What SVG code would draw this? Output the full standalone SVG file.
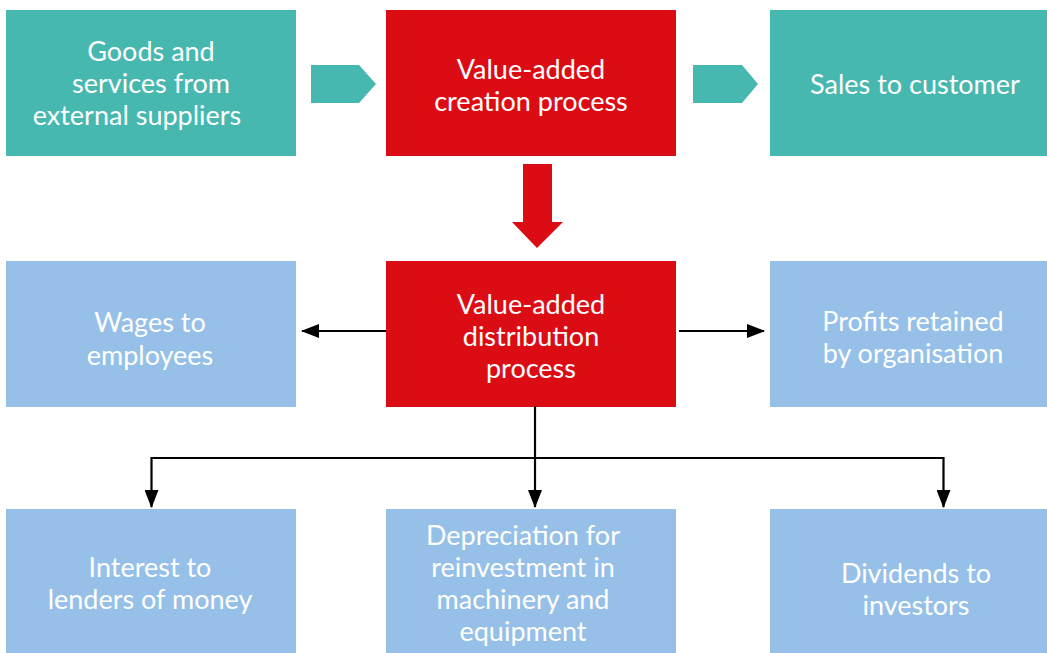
<svg xmlns="http://www.w3.org/2000/svg" width="1047" height="653" viewBox="0 0 1047 653">
<defs>
<style>
.teal{fill:#46B8B0}
.red{fill:#DC0C15}
.blue{fill:#96C0E8}
.t{font-family:Lato,"Open Sans","Liberation Sans",sans-serif;font-size:27px;fill:#ffffff;text-anchor:middle}
.ln{stroke:#000;stroke-width:2.2;fill:none}
</style>
<marker id="ah" viewBox="0 0 18 14" refX="17" refY="7" markerWidth="18" markerHeight="14" markerUnits="userSpaceOnUse" orient="auto">
<path d="M0,0 L18,7 L0,14 z" fill="#000"/>
</marker>
</defs>
<rect width="1047" height="653" fill="#fff"/>
<g id="n-suppliers">
<rect class="teal" x="6" y="10" width="290" height="146"/>
<text class="t" x="151" y="61">Goods and</text>
<text class="t" x="151" y="93">services from</text>
<text class="t" x="137" y="125">external suppliers</text>
</g>
<g id="n-creation">
<rect class="red" x="386" y="10" width="290" height="146"/>
<text class="t" x="531" y="79">Value-added</text>
<text class="t" x="531" y="111">creation process</text>
</g>
<g id="n-sales">
<rect class="teal" x="770" y="10" width="290" height="146"/>
<text class="t" x="915" y="94">Sales to customer</text>
</g>
<g id="n-wages">
<rect class="blue" x="6" y="261" width="290" height="146"/>
<text class="t" x="150" y="332">Wages to</text>
<text class="t" x="150" y="365">employees</text>
</g>
<g id="n-distribution">
<rect class="red" x="386" y="261" width="290" height="146"/>
<text class="t" x="531" y="314">Value-added</text>
<text class="t" x="531" y="346">distribution</text>
<text class="t" x="531" y="378">process</text>
</g>
<g id="n-profits">
<rect class="blue" x="770" y="261" width="290" height="146"/>
<text class="t" x="913" y="331">Profits retained</text>
<text class="t" x="913" y="363">by organisation</text>
</g>
<g id="n-interest">
<rect class="blue" x="6" y="509" width="290" height="146"/>
<text class="t" x="150" y="577">Interest to</text>
<text class="t" x="150" y="609">lenders of money</text>
</g>
<g id="n-depreciation">
<rect class="blue" x="386" y="509" width="290" height="146"/>
<text class="t" x="523" y="545">Depreciation for</text>
<text class="t" x="523" y="577">reinvestment in</text>
<text class="t" x="523" y="609">machinery and</text>
<text class="t" x="523" y="641">equipment</text>
</g>
<g id="n-dividends">
<rect class="blue" x="770" y="509" width="290" height="146"/>
<text class="t" x="916" y="583">Dividends to</text>
<text class="t" x="916" y="615">investors</text>
</g>
<g id="connectors">
<polygon class="teal" points="311,65 359,65 376,84 359,103 311,103"/>
<polygon class="teal" points="693,65 742,65 758,84 742,103 693,103"/>
<polygon class="red" points="523,164 552,164 552,222 563,222 537,248 512,222 523,222"/>
<line class="ln" x1="386" y1="331" x2="302" y2="331" marker-end="url(#ah)"/>
<line class="ln" x1="679" y1="331" x2="764" y2="331" marker-end="url(#ah)"/>
<line class="ln" x1="535" y1="406" x2="535" y2="507" marker-end="url(#ah)"/>
<polyline class="ln" points="151.5,458 943.5,458 943.5,507" marker-end="url(#ah)"/>
<line class="ln" x1="151.5" y1="457" x2="151.5" y2="507" marker-end="url(#ah)"/>
</g>
</svg>
